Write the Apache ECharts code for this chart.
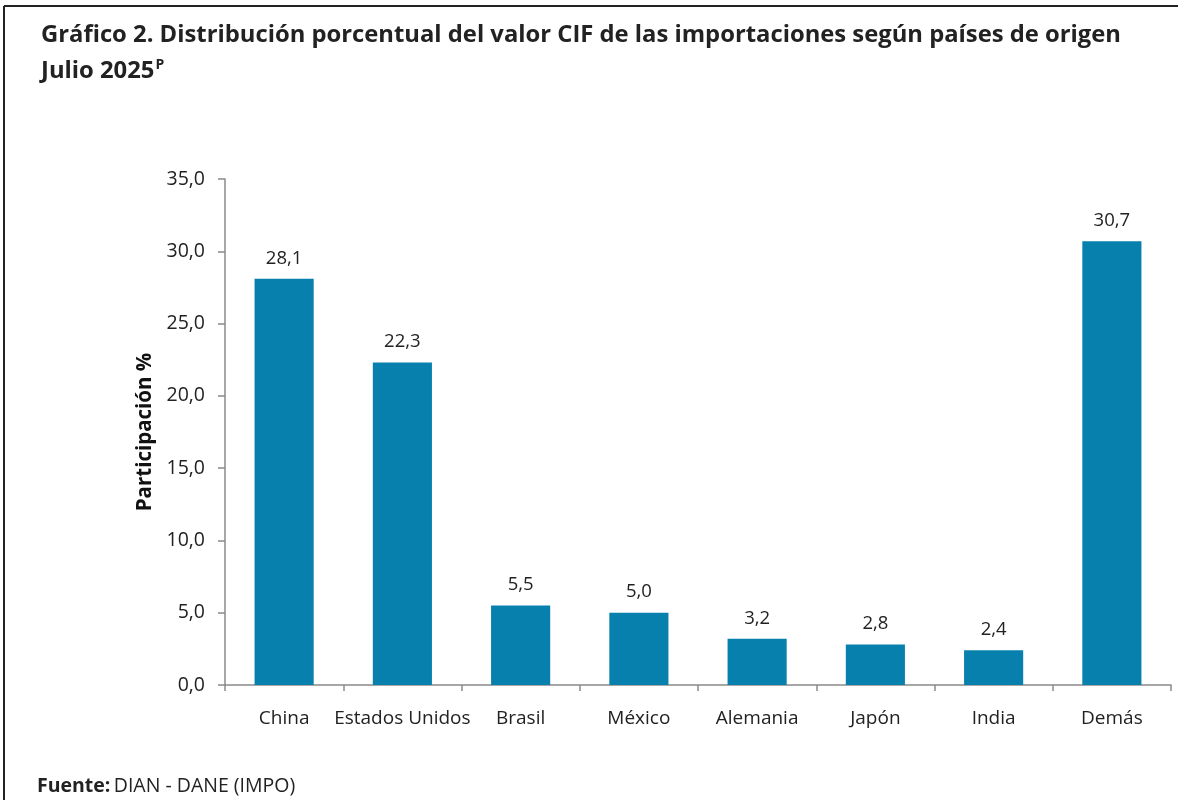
<!DOCTYPE html>
<html>
<head>
<meta charset="utf-8">
<script src="https://cdn.jsdelivr.net/npm/echarts@6/dist/echarts.min.js"></script>
<style>
  html, body { margin: 0; padding: 0; background: #fff; }
  #chart { width: 1178px; height: 800px; }
</style>
</head>
<body>
<div id="chart"></div>
<script>
// datos del gráfico
const paises = ['China', 'Estados Unidos', 'Brasil', 'México', 'Alemania', 'Japón', 'India', 'Demás']
const participacion = [28.1, 22.3, 5.5, 5.0, 3.2, 2.8, 2.4, 30.7]
const yTicks = [0, 5, 10, 15, 20, 25, 30, 35]

const fmt = v => Number(v).toFixed(1).replace('.', ',')
const font = '"Open Sans", "Noto Sans", sans-serif'

const chart = echarts.init(document.getElementById('chart'))
chart.setOption({
  animation: false,
  textStyle: { fontFamily: font },
  title: {
    left: 36,
    top: 12,
    text: '{t|Gráfico 2. Distribución porcentual del valor CIF de las importaciones según países de origen}\n{t|Julio 2025}{s|P}',
    textStyle: {
      rich: {
        t: { fontFamily: font, fontWeight: 'bold', fontSize: 23.8, color: '#222', lineHeight: 36 },
        s: { fontFamily: font, fontWeight: 'bold', fontSize: 14, color: '#222', lineHeight: 36, verticalAlign: 'top', padding: [5, 0, 0, 1] }
      }
    }
  },
  graphic: [
    { type: 'line', shape: { x1: 4, y1: 6, x2: 1178, y2: 6 }, style: { stroke: '#222', lineWidth: 2 } },
    { type: 'line', shape: { x1: 4, y1: 6, x2: 4, y2: 800 }, style: { stroke: '#222', lineWidth: 2 } },
    {
      type: 'text', left: 37, top: 776,
      style: {
        text: '{b|Fuente:} {n|DIAN - DANE (IMPO)}',
        rich: {
          b: { fontFamily: font, fontWeight: 'bold', fontSize: 19.5, fill: '#222' },
          n: { fontFamily: font, fontSize: 19.5, fill: '#222' }
        }
      }
    }
  ],
  grid: { left: 225, right: 7, top: 179, bottom: 115 },
  xAxis: {
    type: 'category',
    data: paises,
    axisLine: { lineStyle: { color: '#8a8a8a', width: 1.5 } },
    axisTick: { show: true, length: 6, lineStyle: { color: '#8a8a8a', width: 1.5 } },
    axisLabel: { color: '#222', fontSize: 19, margin: 24, interval: 0 }
  },
  yAxis: {
    type: 'value',
    min: 0,
    max: 35,
    interval: 5,
    name: 'Participación %',
    nameLocation: 'middle',
    nameGap: 64,
    nameTextStyle: { fontFamily: font, fontWeight: 'bold', fontSize: 20.5, color: '#111' },
    axisLine: { show: true, lineStyle: { color: '#8a8a8a', width: 1.5 } },
    axisTick: { show: true, length: 7, lineStyle: { color: '#8a8a8a', width: 1.5 } },
    splitLine: { show: false },
    axisLabel: {
      color: '#222', fontSize: 19.5, margin: 20,
      formatter: v => yTicks.includes(v) ? fmt(v) : ''
    }
  },
  series: [{
    type: 'bar',
    data: participacion,
    barWidth: '50%',
    itemStyle: { color: '#0880ad' },
    label: {
      show: true,
      position: 'top',
      distance: 11,
      color: '#222',
      fontSize: 18.5,
      formatter: p => fmt(p.value)
    }
  }]
})
</script>
</body>
</html>
